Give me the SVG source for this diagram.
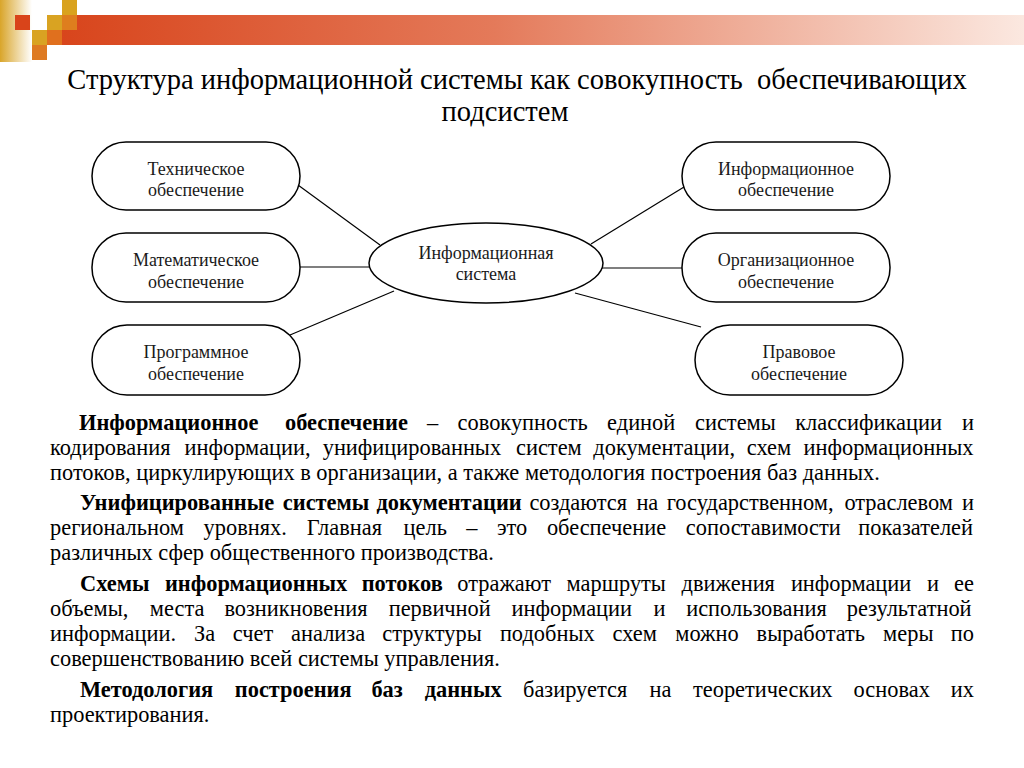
<svg xmlns="http://www.w3.org/2000/svg" width="1024" height="768" viewBox="0 0 1024 768">
<defs>
<linearGradient id="barGrad" x1="0" y1="0" x2="1" y2="0">
<stop offset="0" stop-color="#D8451C"/>
<stop offset="0.45" stop-color="#E47A5A"/>
<stop offset="1" stop-color="#FBE8E0"/>
</linearGradient>
<linearGradient id="colGrad" x1="0" y1="0" x2="1" y2="0">
<stop offset="0" stop-color="#D9A52A"/>
<stop offset="1" stop-color="#FFFFFF"/>
</linearGradient>
<style>
.node{fill:#FFFFFF;stroke:#000000;stroke-width:1.5}
.nt{font-family:'Liberation Serif','DejaVu Serif',serif;font-size:18px;fill:#1a1a1a;text-anchor:middle}
.conn{stroke:#000000;stroke-width:1.2;fill:none}
.title{font-family:'Liberation Serif','DejaVu Serif',serif;font-size:28.5px;fill:#000000;text-anchor:middle}
.body{font-family:'Liberation Serif','DejaVu Serif',serif;font-size:22.4px;fill:#000000}
.b{font-weight:bold}
</style>
</defs>
<rect width="1024" height="768" fill="#FFFFFF"/>
<g id="decoration">
<rect x="62" y="15" width="962" height="30" fill="url(#barGrad)"/>
<rect x="0" y="0" width="32" height="62" fill="url(#colGrad)"/>
<rect x="15" y="15" width="15" height="15" fill="#D9441A"/>
<rect x="62" y="0" width="15" height="15" fill="#D9A21E"/>
<rect x="47" y="15" width="15" height="15" fill="#D9A322"/>
<rect x="62" y="15" width="15" height="15" fill="#DE7E1E"/>
<rect x="32" y="30" width="15" height="15" fill="#D9A322"/>
<rect x="47" y="30" width="15" height="15" fill="#E0701E"/>
<rect x="32" y="45" width="15" height="15" fill="#DE7A22"/>
</g>
<g id="title">
<text class="title" x="517" y="89" xml:space="preserve">Структура информационной системы как совокупность  обеспечивающих</text>
<text class="title" x="505" y="121">подсистем</text>
</g>
<g id="connectors">
<line class="conn" x1="298" y1="185" x2="380" y2="245"/>
<line class="conn" x1="300" y1="267" x2="370" y2="267"/>
<line class="conn" x1="290" y1="335" x2="394" y2="291"/>
<line class="conn" x1="591" y1="244" x2="684" y2="187"/>
<line class="conn" x1="602" y1="268" x2="683" y2="268"/>
<line class="conn" x1="575" y1="293" x2="701" y2="327"/>
</g>
<g id="node-tech">
<rect class="node" x="92" y="142" width="208" height="68" rx="34" ry="34"/>
<text class="nt" x="196" y="175">Техническое</text>
<text class="nt" x="196" y="196">обеспечение</text>
</g>
<g id="node-math">
<rect class="node" x="92" y="233" width="208" height="69" rx="34" ry="34"/>
<text class="nt" x="196" y="266">Математическое</text>
<text class="nt" x="196" y="288">обеспечение</text>
</g>
<g id="node-prog">
<rect class="node" x="92" y="325" width="208" height="70" rx="35" ry="35"/>
<text class="nt" x="196" y="358">Программное</text>
<text class="nt" x="196" y="380">обеспечение</text>
</g>
<g id="node-center">
<ellipse class="node" cx="486" cy="263" rx="117" ry="40"/>
<text class="nt" x="486" y="259">Информационная</text>
<text class="nt" x="486" y="280">система</text>
</g>
<g id="node-info">
<rect class="node" x="682" y="142" width="208" height="68" rx="34" ry="34"/>
<text class="nt" x="786" y="175">Информационное</text>
<text class="nt" x="786" y="196">обеспечение</text>
</g>
<g id="node-org">
<rect class="node" x="682" y="233" width="208" height="69" rx="34" ry="34"/>
<text class="nt" x="786" y="266">Организационное</text>
<text class="nt" x="786" y="288">обеспечение</text>
</g>
<g id="node-law">
<rect class="node" x="695" y="325" width="208" height="70" rx="35" ry="35"/>
<text class="nt" x="799" y="358">Правовое</text>
<text class="nt" x="799" y="380">обеспечение</text>
</g>
<g id="body-text" class="body">
<text y="430"><tspan class="b" x="79">Информационное</tspan><tspan class="b" x="285">обеспечение</tspan><tspan x="427">–</tspan><tspan x="457.6">совокупность</tspan><tspan x="607.1">единой</tspan><tspan x="695">системы</tspan><tspan x="795.2">классификации</tspan><tspan x="962">и</tspan></text>
<text y="455"><tspan x="50">кодирования</tspan><tspan x="184.6">информации,</tspan><tspan x="322.7">унифицированных</tspan><tspan x="516">систем</tspan><tspan x="593.3">документации,</tspan><tspan x="746.8">схем</tspan><tspan x="803.6">информационных</tspan></text>
<text y="480" x="50">потоков, циркулирующих в организации, а также методология построения баз данных.</text>
<text y="510"><tspan class="b" x="80">Унифицированные</tspan><tspan class="b" x="282.8">системы</tspan><tspan class="b" x="376.5">документации</tspan><tspan x="529.4">создаются</tspan><tspan x="636.4">на</tspan><tspan x="666.7">государственном,</tspan><tspan x="844.4">отраслевом</tspan><tspan x="962">и</tspan></text>
<text y="535"><tspan x="50">региональном</tspan><tspan x="203.6">уровнях.</tspan><tspan x="306.8">Главная</tspan><tspan x="403.6">цель</tspan><tspan x="466.3">–</tspan><tspan x="496.9">это</tspan><tspan x="546.9">обеспечение</tspan><tspan x="685.8">сопоставимости</tspan><tspan x="858.3">показателей</tspan></text>
<text y="560" x="50">различных сфер общественного производства.</text>
<text y="591"><tspan class="b" x="80">Схемы</tspan><tspan class="b" x="164.9">информационных</tspan><tspan class="b" x="361.7">потоков</tspan><tspan x="457.3">отражают</tspan><tspan x="566.6">маршруты</tspan><tspan x="681.6">движения</tspan><tspan x="790.9">информации</tspan><tspan x="927.1">и</tspan><tspan x="954.1">ее</tspan></text>
<text y="616"><tspan x="50">объемы,</tspan><tspan x="149.8">места</tspan><tspan x="224.4">возникновения</tspan><tspan x="388.7">первичной</tspan><tspan x="511.6">информации</tspan><tspan x="653.4">и</tspan><tspan x="686.2">использования</tspan><tspan x="846.7">результатной</tspan></text>
<text y="641"><tspan x="50">информации.</tspan><tspan x="194">За</tspan><tspan x="232.8">счет</tspan><tspan x="291.1">анализа</tspan><tspan x="382.2">структуры</tspan><tspan x="499.9">подобных</tspan><tspan x="612.6">схем</tspan><tspan x="675.3">можно</tspan><tspan x="756.6">выработать</tspan><tspan x="883.1">меры</tspan><tspan x="950.8">по</tspan></text>
<text y="666" x="50">совершенствованию всей системы управления.</text>
<text y="697"><tspan class="b" x="80">Методология</tspan><tspan class="b" x="234.8">построения</tspan><tspan class="b" x="371.4">баз</tspan><tspan class="b" x="424.7">данных</tspan><tspan x="523">базируется</tspan><tspan x="649.6">на</tspan><tspan x="693">теоретических</tspan><tspan x="853.6">основах</tspan><tspan x="950.8">их</tspan></text>
<text y="722" x="50">проектирования.</text>
</g>
</svg>
